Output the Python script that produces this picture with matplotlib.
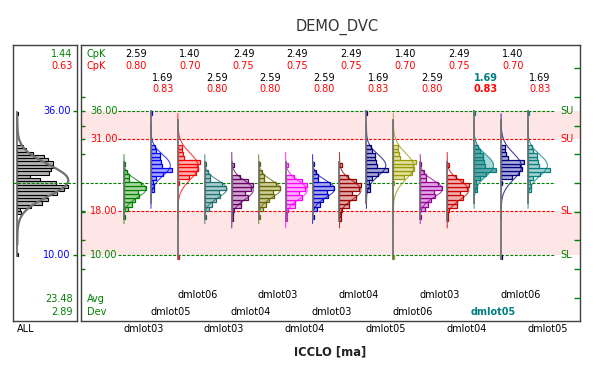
import numpy as np
import matplotlib
matplotlib.use("Agg")
import matplotlib.pyplot as plt
from matplotlib.transforms import blended_transform_factory

# ---------------- data ----------------
title = "DEMO_DVC"
xlabel = "ICCLO [ma]"
usl_out, lsl_out = 36.0, 10.0
usl_in, lsl_in = 31.0, 18.0
target = 23.0

# overall (ALL) histogram
all_bin_width = 0.6
all_bin_lo = [9.7, 17.3, 17.9, 18.5, 19.1, 19.7, 20.3, 20.9, 21.5, 22.1, 22.7, 23.3,
              23.9, 24.5, 25.1, 25.7, 26.3, 26.9, 27.5, 28.1, 28.7, 29.3, 35.3]
all_counts = [1, 10, 8, 40, 73, 90, 88, 118, 138, 150, 113, 66, 38, 93, 98, 106, 106, 91, 78, 46, 26, 18, 1]
all_cpk_out, all_cpk_in = "1.44", "0.63"
all_avg, all_dev = 23.48, 2.89
all_curve_peak = 150

# per-distribution histograms: bin bottoms, counts, data range, fitted curve (mean, sd, peak count)
hist_width = {"A": 0.74, "B": 0.71, "C": 0.68, "D": 0.75}
hist_lo = {
    "A": [16.4, 18.0, 18.74, 19.48, 20.22, 20.96, 21.7, 22.44, 23.18, 23.92, 24.66, 26.06],
    "B": [21.4, 22.11, 22.82, 23.53, 24.24, 24.95, 25.66, 26.37, 27.08, 27.79, 28.5, 29.21, 35.4],
    "C": [9.3, 22.6, 23.8, 24.48, 25.16, 25.84, 26.52, 27.2, 27.88, 28.56, 29.24],
    "D": [16.1, 17.0, 17.75, 18.5, 19.25, 20.0, 20.75, 21.5, 22.25, 23.0, 23.75, 25.9],
}
hist_counts = {
    "A": [1, 4, 7, 10, 14, 13, 20, 16, 5, 5, 3, 1],
    "B": [3, 3, 2, 5, 11, 20, 10, 9, 8, 8, 5, 4, 1],
    "C": [1, 1, 10, 17, 19, 18, 21, 6, 5, 4, 4],
    "D": [1, 1, 2, 9, 9, 15, 12, 18, 20, 15, 8, 2],
}
range_lo = {"A": 16.4, "B": 19.4, "C": 9.3, "D": 16.1}
range_hi = {"A": 26.8, "B": 36.1, "C": 34.4, "D": 26.8}
curve_mean = {"A": 21.9, "B": 26.2, "C": 26.0, "D": 21.7}
curve_sd = {"A": 1.55, "B": 1.94, "C": 2.38, "D": 1.7}
curve_peak = {"A": 20.5, "B": 18.0, "C": 19.0, "D": 20.0}

groups = list(range(16))
group_type = ["A", "B", "C", "A", "D", "A", "D", "A", "D", "B", "C", "A", "D", "B", "C", "B"]
group_lot = ["dmlot03", "dmlot05", "dmlot06", "dmlot03", "dmlot04", "dmlot03", "dmlot04", "dmlot03",
             "dmlot04", "dmlot05", "dmlot06", "dmlot03", "dmlot04", "dmlot05", "dmlot06", "dmlot05"]
cpk_out = ["2.59", "1.69", "1.40", "2.59", "2.49", "2.59", "2.49", "2.59",
           "2.49", "1.69", "1.40", "2.59", "2.49", "1.69", "1.40", "1.69"]
cpk_in = ["0.80", "0.83", "0.70", "0.80", "0.75", "0.80", "0.75", "0.80",
          "0.75", "0.83", "0.70", "0.80", "0.75", "0.83", "0.70", "0.83"]
highlight = 13

edge_colors = ["#008000", "#0000ff", "#ff0000", "#1f6f6f", "#660066", "#666600", "#ff00ff", "#0000cc",
               "#990000", "#000080", "#999900", "#990099", "#cc0000", "#008080", "#000080", "#008080"]
fill_colors = ["#a6d7a0", "#a6a6ff", "#ffb0b0", "#a8cccc", "#d0a8d0", "#cccc99", "#ffb0ff", "#a8a8ee",
               "#e0a8a8", "#a8a8d0", "#e0e0a0", "#e0a8e0", "#f0b0b0", "#5fa8a8", "#a8a8d8", "#a8d0d0"]

# ---------------- style ----------------
GREEN = "#008000"
RED = "#ff0000"
BLUE = "#0000ff"
SPINE = "#404040"
PINK = "#ffe6e6"
FS = 7
dash = (0, (2.7, 1.4))

fig = plt.figure(figsize=(5.99, 3.70), dpi=100)
W, H = 599.0, 370.0
top_px, bot_px = 45.0, 321.0
ax_all = fig.add_axes([12.7 / W, 1 - bot_px / H, 64.6 / W, (bot_px - top_px) / H])
ax = fig.add_axes([80.7 / W, 1 - bot_px / H, (580 - 80.7) / W, (bot_px - top_px) / H])

ylo, yhi = -2.0, 48.0
for a in (ax_all, ax):
    a.set_ylim(ylo, yhi)
    for s in a.spines.values():
        s.set_color(SPINE)
        s.set_linewidth(1.0)
    a.set_xticks([])

# ---------------- main panel ----------------
ax.set_xlim(-1.607, 16.93)
ax.axhspan(usl_in, usl_out, color=PINK, zorder=0, lw=0)
ax.axhspan(lsl_out, lsl_in, color=PINK, zorder=0, lw=0)

tr = blended_transform_factory(ax.transAxes, ax.transData)
line_x0, line_x1 = 0.075, 0.95
for val, col in [(usl_out, GREEN), (usl_in, RED), (lsl_in, RED), (lsl_out, GREEN)]:
    ax.plot([line_x0, line_x1], [val, val], transform=tr, color=col, lw=0.8, ls=dash, zorder=1)
    ax.text(0.0186, val, f"{val:.2f}", transform=tr, color=col, fontsize=FS, ha="left", va="center")
for val, col, lab in [(usl_out, GREEN, "SU"), (usl_in, RED, "SU"), (lsl_in, RED, "SL"), (lsl_out, GREEN, "SL")]:
    ax.text(0.96, val, lab, transform=tr, color=col, fontsize=FS, ha="left", va="center")
ax.plot([0, line_x1], [target, target], transform=tr, color=GREEN, lw=0.8, ls=dash, zorder=1)

step = (usl_out - lsl_out) / 5
left_ticks = sorted([target + step * k for k in range(-3, 4) if k != 0] + [usl_out, usl_in, lsl_in, lsl_out])
ax.set_yticks(left_ticks)
ax.tick_params(axis="y", left=True, right=False, direction="in", length=3, width=1,
               color=GREEN, labelleft=False)
for t, v in zip(ax.yaxis.get_major_ticks(), left_ticks):
    if v in (usl_in, lsl_in):
        t.tick1line.set_color(RED)
ax2 = ax.twinx()
ax2.set_ylim(ylo, yhi)
ax2.set_yticks([target + step * k for k in range(-4, 5)])
ax2.tick_params(axis="y", direction="in", length=4.5, width=1, color=GREEN, labelright=False)
for s in ax2.spines.values():
    s.set_visible(False)

bar_scale = 0.04  # x-units per count

for g in groups:
    typ = group_type[g]
    bw = hist_width[typ]
    lo = np.array(hist_lo[typ])
    cnt = np.array(hist_counts[typ], dtype=float)
    ec, fc = edge_colors[g], fill_colors[g]
    mu, sd = curve_mean[typ], curve_sd[typ]
    yy = np.linspace(mu - 4 * sd, mu + 4 * sd, 300)
    shape = np.exp(-0.5 * ((yy - mu) / sd) ** 2)
    xx = g + curve_peak[typ] * shape * bar_scale
    if g == highlight:
        ax.fill_betweenx(yy, g, xx, color="#a8d8d8", lw=0, zorder=2)
    ax.plot(xx, yy, color=ec, lw=0.8, alpha=0.75, zorder=4)
    ax.barh(lo, cnt * bar_scale, height=bw, left=g, align="edge",
            color=fc, edgecolor=ec, linewidth=0.9, zorder=3)
    ax.plot([g, g], [range_lo[typ], range_hi[typ]], color="#707070", lw=1.3, zorder=5)

    # CpK texts
    row = g % 2
    y_out = 46.35 if row == 0 else 42.0
    y_in = 44.27 if row == 0 else 39.94
    bold = "bold" if g == highlight else "normal"
    ax.text(g + 0.44, y_out, cpk_out[g], color="#008080" if g == highlight else "black",
            fontsize=FS, ha="center", va="center", fontweight=bold)
    ax.text(g + 0.44, y_in, cpk_in[g], color=RED, fontsize=FS, ha="center", va="center", fontweight=bold)

    # lot labels, three staggered rows
    r = g % 3
    y_lab = {2: 2.7, 1: -0.37, 0: -3.5}[r]
    ax.text(g + 0.72, y_lab, group_lot[g], color="#008080" if g == highlight else "black",
            fontsize=FS, ha="center", va="center", fontweight=bold, clip_on=False)

ax.text(0.0126, 46.35, "CpK", transform=tr, color=GREEN, fontsize=FS, ha="left", va="center")
ax.text(0.0126, 44.27, "CpK", transform=tr, color=RED, fontsize=FS, ha="left", va="center")
ax.text(0.0126, 2.0, "Avg", transform=tr, color=GREEN, fontsize=FS, ha="left", va="center")
ax.text(0.0126, -0.33, "Dev", transform=tr, color=GREEN, fontsize=FS, ha="left", va="center")

# ---------------- ALL panel ----------------
ax_all.set_xlim(0, 1)
ax_all.set_yticks([usl_out, lsl_out])
ax_all.tick_params(axis="y", left=False, right=True, direction="in", length=3, width=1,
                   color=GREEN, labelleft=False)
tra = blended_transform_factory(ax_all.transAxes, ax_all.transData)
base = 0.071
lo = np.array(all_bin_lo)
cnt = np.array(all_counts, dtype=float)
all_scale = 0.79 / cnt.max()
yy = np.linspace(all_avg - 4 * all_dev, all_avg + 4 * all_dev, 300)
shape = np.exp(-0.5 * ((yy - all_avg) / all_dev) ** 2)
xx = base + all_curve_peak * shape * all_scale
ax_all.barh(lo, cnt * all_scale, height=all_bin_width, left=base, align="edge",
            color="#b4b4b4", edgecolor="black", linewidth=0.8, zorder=3)
ax_all.plot(xx, yy, color="#707070", lw=1.6, zorder=4)
ax_all.plot([base, base], [lo.min(), lo.max() + all_bin_width], color="#707070", lw=1.3, zorder=5)
ax_all.plot([0, 1], [target, target], color=GREEN, lw=0.8, ls=dash, zorder=6)

ax_all.text(0.929, 46.35, all_cpk_out, transform=tra, color=GREEN, fontsize=FS, ha="right", va="center")
ax_all.text(0.929, 44.27, all_cpk_in, transform=tra, color=RED, fontsize=FS, ha="right", va="center")
ax_all.text(0.90, usl_out, f"{usl_out:.2f}", transform=tra, color=BLUE, fontsize=FS, ha="right", va="center")
ax_all.text(0.90, lsl_out, f"{lsl_out:.2f}", transform=tra, color=BLUE, fontsize=FS, ha="right", va="center")
ax_all.text(0.929, 2.0, f"{all_avg:.2f}", transform=tra, color=GREEN, fontsize=FS, ha="right", va="center")
ax_all.text(0.929, -0.33, f"{all_dev:.2f}", transform=tra, color=GREEN, fontsize=FS, ha="right", va="center")
ax_all.text(0.07, -3.5, "ALL", transform=tra, color="black", fontsize=FS, ha="left", va="center")

fig.text(337 / W, 1 - 27 / H, title, fontsize=10.5, color="#333333", ha="center", va="center")
fig.text(330 / W, 1 - 352 / H, xlabel, fontsize=8.3, fontweight="bold", color="#222222",
         ha="center", va="center")

fig.savefig("out.png", dpi=100, facecolor="white")
